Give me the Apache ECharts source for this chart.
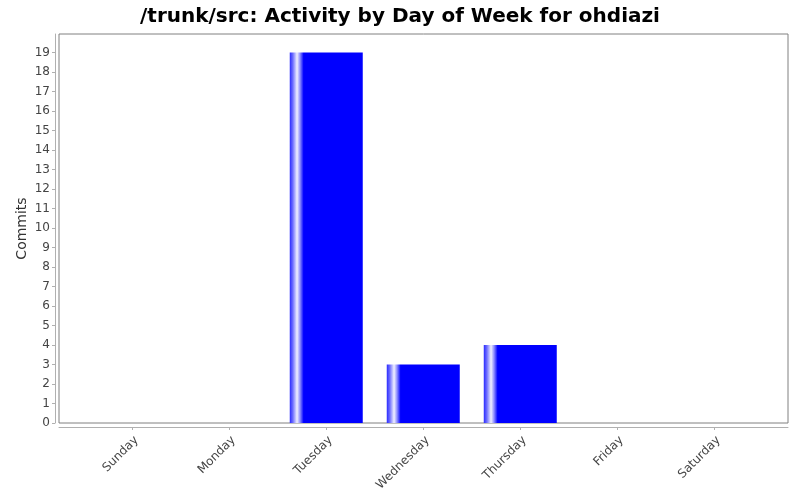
<!DOCTYPE html>
<html>
<head>
<meta charset="utf-8">
<script src="https://cdn.jsdelivr.net/npm/echarts@6/dist/echarts.min.js"></script>
<style>html,body{margin:0;padding:0;background:#fff}#c{width:800px;height:500px}</style>
</head>
<body>
<div id="c"></div>
<script>
const days = ['Sunday','Monday','Tuesday','Wednesday','Thursday','Friday','Saturday'];
const commits = [0, 0, 19, 3, 4, 0, 0];
const yTicks = [0,1,2,3,4,5,6,7,8,9,10,11,12,13,14,15,16,17,18,19];
const xTicks = [0,1,2,3,4,5,6];

const chart = echarts.init(document.getElementById('c'), null, {renderer:'canvas'});
const font = 'DejaVu Sans';
const barGrad = new echarts.graphic.LinearGradient(0,0,1,0,[
  {offset:0, color:'#2a2aff'},
  {offset:0.04, color:'#6a6aff'},
  {offset:0.1, color:'#f0f0ff'},
  {offset:0.14, color:'#9090ff'},
  {offset:0.19, color:'#0000ff'},
  {offset:1, color:'#0000ff'}
]);
chart.setOption({
  animation:false,
  backgroundColor:'#ffffff',
  title:{
    text:'/trunk/src: Activity by Day of Week for ohdiazi',
    left:'center', top:2,
    textStyle:{fontFamily:font, fontSize:20, fontWeight:'bold', color:'#000'}
  },
  grid:{left:59, right:12, top:34, bottom:77, show:true, borderColor:'#808080', borderWidth:1, backgroundColor:'#ffffff'},
  xAxis:{
    type:'value', min:-0.755, max:6.76,
    offset:4,
    axisLine:{show:true, onZero:false, lineStyle:{color:'#b0b0b0'}},
    axisTick:{show:true, length:3, lineStyle:{color:'#b0b0b0'}, customValues:xTicks},
    axisLabel:{customValues:xTicks, rotate:45, margin:7, verticalAlign:'top', fontFamily:font, fontSize:12, color:'#444',
      formatter:v=>days[Math.round(v)]},
    splitLine:{show:false}
  },
  yAxis:{
    type:'value', min:0, max:19.95,
    offset:4,
    name:'Commits', nameLocation:'middle', nameGap:26, nameRotate:90, nameMoveOverlap:false,
    nameTextStyle:{fontFamily:font, fontSize:14, color:'#333'},
    axisLine:{show:true, onZero:false, lineStyle:{color:'#b0b0b0'}},
    axisTick:{show:true, length:3, lineStyle:{color:'#b0b0b0'}, customValues:yTicks},
    axisLabel:{customValues:yTicks, margin:5, fontFamily:font, fontSize:12, color:'#444'},
    splitLine:{show:false}
  },
  series:[{
    type:'bar',
    data: commits.map((v,i)=>[xTicks[i], v]),
    barWidth:73,
    itemStyle:{color:barGrad, borderWidth:0},
    emphasis:{disabled:true}
  }]
});
</script>
</body>
</html>
